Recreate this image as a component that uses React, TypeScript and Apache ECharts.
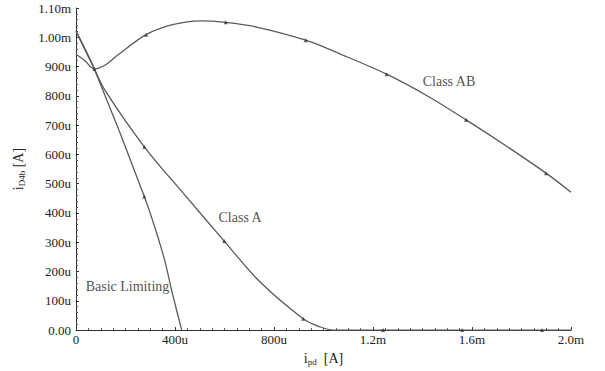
import React, { useEffect, useRef } from "react";
import * as echarts from "echarts";

// All currents in mA
const xTickLabels = ["0", "400u", "800u", "1.2m", "1.6m", "2.0m"];
const yTickLabels = ["0.00", "100u", "200u", "300u", "400u", "500u", "600u", "700u", "800u", "900u", "1.00m", "1.10m"];

const classAB: [number, number][] = [
  [0, 0.942], [0.036, 0.92], [0.074, 0.892], [0.12, 0.906], [0.17, 0.94],
  [0.283, 1.009], [0.39, 1.043], [0.503, 1.056], [0.605, 1.051], [0.73, 1.035],
  [0.928, 0.99], [1.09, 0.935], [1.255, 0.874], [1.415, 0.802], [1.576, 0.718],
  [1.74, 0.628], [1.899, 0.536], [2.0, 0.471],
];
const classA: [number, number][] = [
  [0, 1.021], [0.074, 0.892], [0.12, 0.815], [0.276, 0.626], [0.434, 0.467],
  [0.599, 0.304], [0.743, 0.165], [0.918, 0.039], [0.986, 0.011],
  [1.038, 0], [1.5, 0], [2.0, 0],
];
const basicLimiting: [number, number][] = [
  [0, 1.021], [0.074, 0.892], [0.276, 0.456], [0.353, 0.255],
  [0.389, 0.127], [0.427, 0],
];
const markersAB: [number, number][] = [
  [0.074, 0.892], [0.283, 1.009], [0.605, 1.051], [0.928, 0.99], [1.255, 0.874], [1.576, 0.718], [1.899, 0.536],
];
const markersA: [number, number][] = [
  [0.276, 0.626], [0.599, 0.304], [0.918, 0.039], [1.241, 0], [1.56, 0], [1.883, 0],
];
const markersBasic: [number, number][] = [[0.276, 0.456]];

const annotations = [
  { text: "Class AB", x: 1.507, y: 0.848 },
  { text: "Class A", x: 0.663, y: 0.386 },
  { text: "Basic Limiting", x: 0.208, y: 0.148 },
];

const FONT = "Liberation Serif";
const LINE = "#5a5a5a";
const TEXT = "#222";

export default function App() {
  const ref = useRef<HTMLDivElement>(null);
  useEffect(() => {
    if (!ref.current) return;
    const chart = echarts.init(ref.current, null, { renderer: "svg" });
    const lineSeries = (name: string, data: [number, number][], smooth: number | boolean) => ({
      name,
      type: "line",
      data,
      smooth,
      showSymbol: false,
      symbol: "none",
      lineStyle: { color: LINE, width: 1.3 },
      z: 2,
    });
    const markerSeries = (data: [number, number][]) => ({
      type: "scatter",
      data,
      symbol: "triangle",
      symbolSize: 4,
      itemStyle: { color: "#333" },
      z: 3,
    });
    const rich = {
      i: { fontFamily: FONT, fontSize: 14, color: TEXT, lineHeight: 16 },
      s: { fontFamily: FONT, fontSize: 9, color: TEXT, verticalAlign: "bottom", lineHeight: 12, padding: [6, 0, 0, 0] },
    };
    chart.setOption({
      animation: false,
      backgroundColor: "#fff",
      textStyle: { fontFamily: FONT },
      grid: { left: 76, right: 34, top: 8, bottom: 35 },
      xAxis: {
        type: "value",
        min: 0,
        max: 2.0,
        interval: 0.4,
        name: "{i|i}{s|pd}{i|  [A]}",
        nameLocation: "middle",
        nameGap: 18,
        nameTextStyle: { fontFamily: FONT, rich },
        axisLine: { lineStyle: { color: "#333", width: 1 } },
        axisTick: { inside: true, length: 3, lineStyle: { color: "#333" } },
        minorTick: { show: true, splitNumber: 8, length: 2, lineStyle: { color: "#555" } },
        splitLine: { show: false },
        axisLabel: {
          fontFamily: FONT,
          fontSize: 13,
          color: TEXT,
          margin: 3,
          formatter: (v: number) => xTickLabels[Math.round(v / 0.4)] ?? "",
        },
      },
      yAxis: {
        type: "value",
        min: 0,
        max: 1.1,
        interval: 0.1,
        name: "{i|i}{s|D4b}{i| [A]}",
        nameLocation: "middle",
        nameGap: 50,
        nameTextStyle: { fontFamily: FONT, rich },
        axisLine: { show: true, lineStyle: { color: "#333", width: 1 } },
        axisTick: { show: true, inside: true, length: 3, lineStyle: { color: "#333" } },
        minorTick: { show: true, splitNumber: 5, length: 2, lineStyle: { color: "#555" } },
        splitLine: { show: false },
        axisLabel: {
          fontFamily: FONT,
          fontSize: 13,
          color: TEXT,
          margin: 5,
          formatter: (v: number) => yTickLabels[Math.round(v / 0.1)] ?? "",
        },
      },
      series: [
        lineSeries("Class AB", classAB, 0.3),
        lineSeries("Class A", classA, 0.35),
        lineSeries("Basic Limiting", basicLimiting, 0.3),
        markerSeries(markersAB),
        markerSeries(markersA),
        markerSeries(markersBasic),
        {
          type: "scatter",
          data: annotations.map((a) => ({ value: [a.x, a.y], name: a.text })),
          symbolSize: 0,
          silent: true,
          label: {
            show: true,
            position: "inside",
            formatter: (p: any) => p.name,
            fontFamily: FONT,
            fontSize: 14,
            color: TEXT,
          },
        },
      ],
    });
    return () => chart.dispose();
  }, []);
  return (
    <div
      ref={ref}
      style={{ position: "absolute", left: 0, top: 0, width: 605, height: 371, background: "#fff" }}
    />
  );
}
